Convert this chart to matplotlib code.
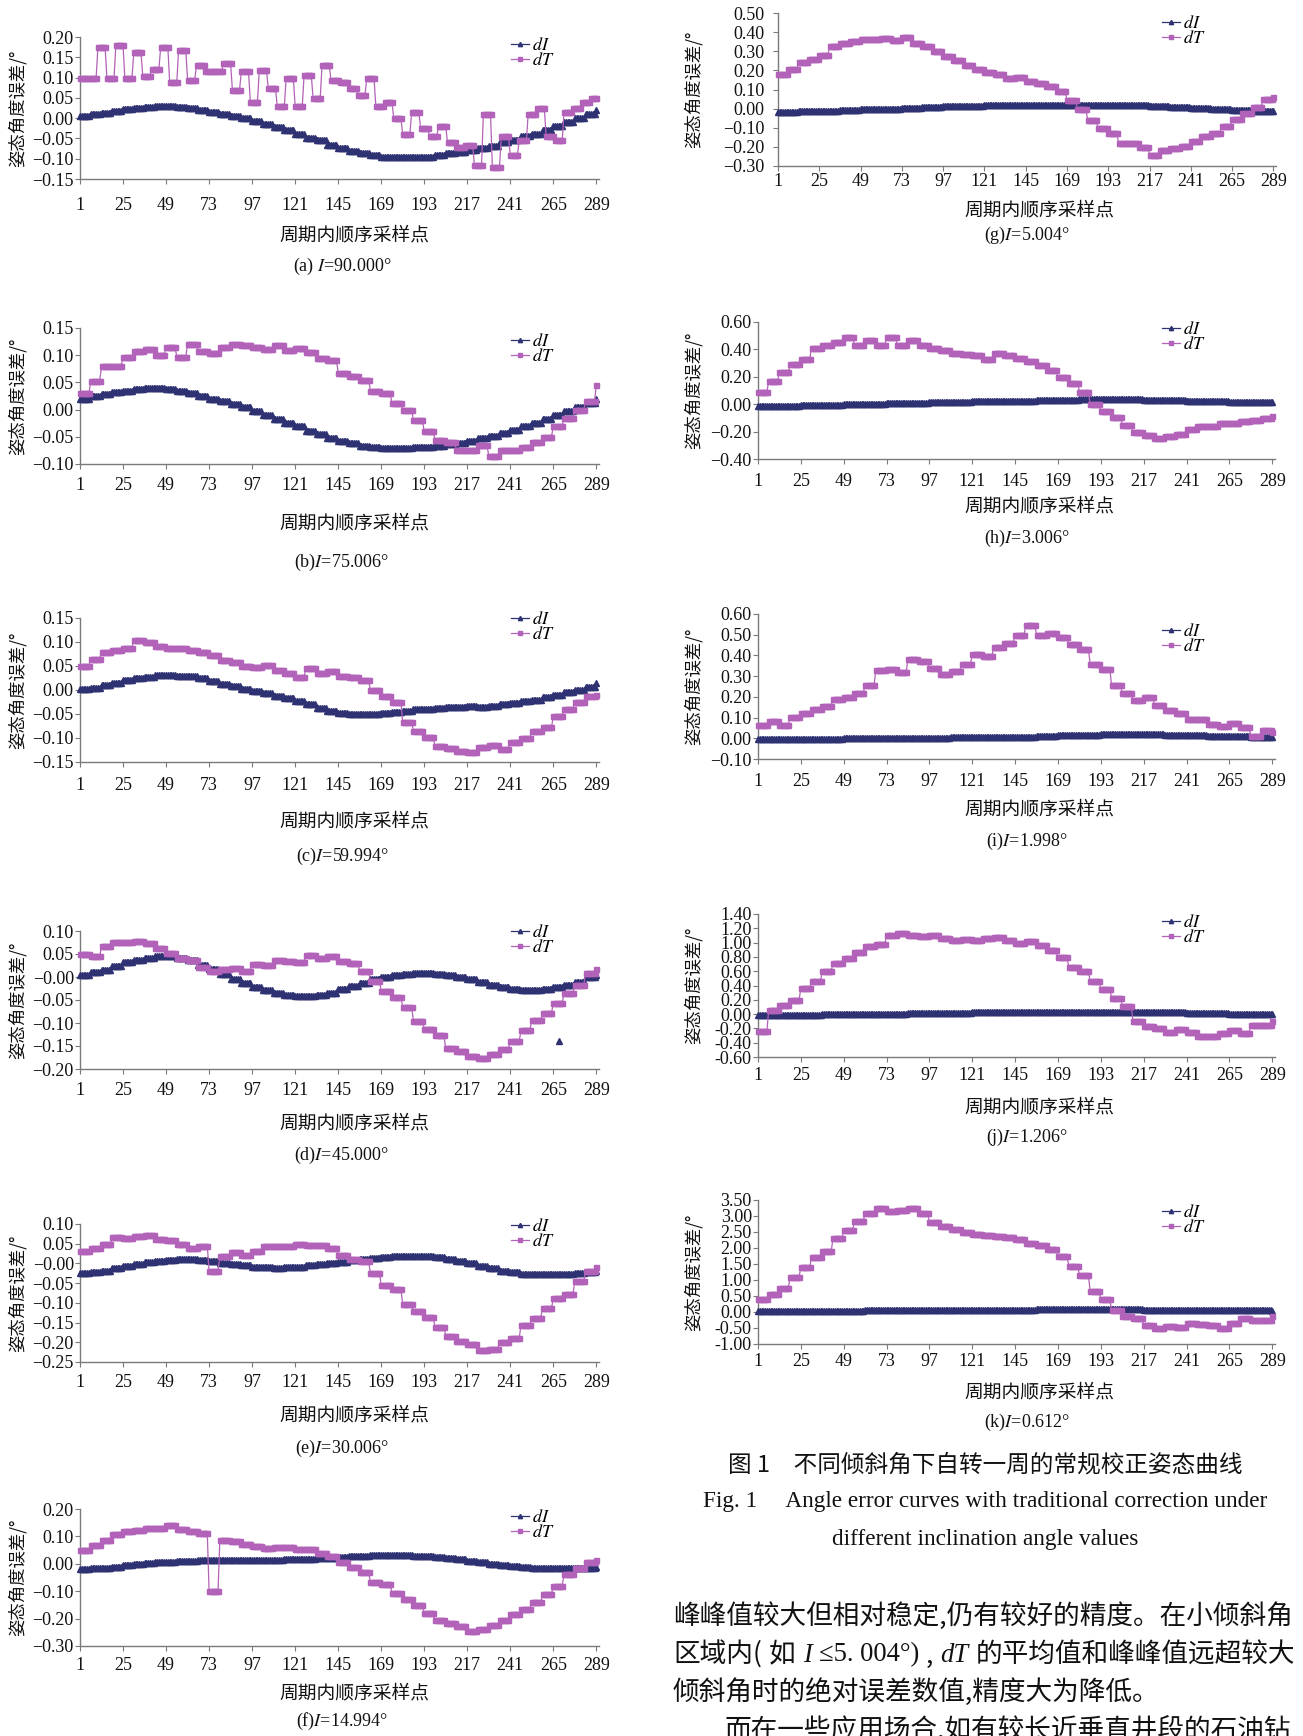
import math
import numpy as np
import matplotlib
matplotlib.use("Agg")
import matplotlib.pyplot as plt
from matplotlib.ticker import FixedLocator, FuncFormatter

W, H = 1303, 1736
SERIF = ["Liberation Serif", "DejaVu Serif"]
CJK = ["Noto Sans CJK SC", "DejaVu Sans"]
plt.rcParams["font.family"] = SERIF
plt.rcParams["mathtext.fontset"] = "stix"

N_SAMPLES = 289
x_ticks = [1, 25, 49, 73, 97, 121, 145, 169, 193, 217, 241, 265, 289]

# stepped levels read along each cycle (dT holds its value for a few samples)
dI_a = [0.005, 0.01, 0.012, 0.018, 0.022, 0.025, 0.027, 0.03, 0.029, 0.028,
        0.025, 0.02, 0.015, 0.01, 0.005, 0.0, -0.008, -0.015, -0.022, -0.03,
        -0.04, -0.048, -0.055, -0.065, -0.073, -0.08, -0.085, -0.09, -0.097, -0.097,
        -0.097, -0.097, -0.095, -0.09, -0.087, -0.083, -0.078, -0.073, -0.068, -0.06,
        -0.053, -0.045, -0.038, -0.028, -0.02, -0.01, 0.0, 0.01, 0.02]
dT_a = [0.10, 0.10, 0.175, 0.10, 0.18, 0.10, 0.162, 0.105, 0.12, 0.175,
        0.09, 0.168, 0.095, 0.13, 0.115, 0.115, 0.135, 0.07, 0.115, 0.04,
        0.118, 0.075, 0.03, 0.10, 0.03, 0.107, 0.05, 0.13, 0.095, 0.09,
        0.075, 0.058, 0.10, 0.03, 0.04, 0.0, -0.04, 0.015, -0.025, -0.045,
        -0.02, -0.06, -0.07, -0.065, -0.115, 0.01, -0.12, -0.045, -0.09, -0.055,
        0.01, 0.025, -0.045, -0.055, 0.015, 0.025, 0.04, 0.05]

dI_b = [0.02, 0.025, 0.028, 0.032, 0.035, 0.038, 0.04, 0.04, 0.038, 0.035,
        0.03, 0.025, 0.02, 0.015, 0.01, 0.005, -0.003, -0.01, -0.017, -0.025,
        -0.03, -0.04, -0.045, -0.052, -0.058, -0.062, -0.066, -0.068, -0.07, -0.07,
        -0.07, -0.069, -0.068, -0.066, -0.064, -0.062, -0.058, -0.053, -0.048, -0.043,
        -0.037, -0.03, -0.025, -0.018, -0.01, -0.002, 0.005, 0.013, 0.02]
dT_b = [0.03, 0.053, 0.08, 0.08, 0.097, 0.107, 0.112, 0.10, 0.115, 0.097,
        0.12, 0.108, 0.104, 0.115, 0.12, 0.118, 0.115, 0.112, 0.118, 0.11,
        0.113, 0.105, 0.095, 0.092, 0.068, 0.062, 0.055, 0.035, 0.03, 0.012,
        0.0, -0.02, -0.04, -0.055, -0.06, -0.075, -0.075, -0.065, -0.085, -0.075,
        -0.075, -0.068, -0.06, -0.05, -0.03, -0.015, 0.0, 0.015, 0.045]

dI_c = [0.003, 0.005, 0.01, 0.015, 0.02, 0.025, 0.028, 0.031, 0.032, 0.03,
        0.03, 0.025, 0.018, 0.013, 0.008, 0.003, -0.002, -0.007, -0.012, -0.017,
        -0.023, -0.03, -0.037, -0.043, -0.048, -0.05, -0.05, -0.05, -0.047, -0.045,
        -0.043, -0.04, -0.04, -0.038, -0.036, -0.035, -0.033, -0.035, -0.033, -0.03,
        -0.027, -0.023, -0.02, -0.015, -0.01, -0.005, 0.0, 0.007, 0.015]
dT_c = [0.05, 0.065, 0.08, 0.084, 0.088, 0.104, 0.10, 0.092, 0.088, 0.087,
        0.084, 0.08, 0.072, 0.063, 0.058, 0.05, 0.048, 0.052, 0.042, 0.036,
        0.028, 0.045, 0.036, 0.039, 0.03, 0.027, 0.02, 0.0, -0.012, -0.025,
        -0.067, -0.085, -0.097, -0.117, -0.12, -0.128, -0.13, -0.118, -0.115, -0.122,
        -0.108, -0.1, -0.085, -0.078, -0.055, -0.04, -0.025, -0.012, -0.01]

dI_d = [0.005, 0.01, 0.015, 0.025, 0.032, 0.038, 0.042, 0.045, 0.045, 0.042,
        0.036, 0.027, 0.017, 0.007, -0.004, -0.013, -0.022, -0.029, -0.035, -0.039,
        -0.041, -0.041, -0.039, -0.034, -0.027, -0.02, -0.012, -0.005, 0.0, 0.004,
        0.007, 0.008, 0.008, 0.007, 0.004, 0.0, -0.005, -0.011, -0.017, -0.022,
        -0.026, -0.028, -0.028, -0.025, -0.022, -0.017, -0.01, 0.0, 0.005]
dT_d = [0.05, 0.045, 0.068, 0.077, 0.076, 0.078, 0.075, 0.062, 0.052, 0.042,
        0.036, 0.022, 0.014, 0.017, 0.019, 0.014, 0.028, 0.026, 0.037, 0.035,
        0.033, 0.047, 0.042, 0.045, 0.035, 0.03, 0.012, -0.009, -0.03, -0.044,
        -0.065, -0.096, -0.112, -0.127, -0.155, -0.161, -0.172, -0.176, -0.168, -0.156,
        -0.14, -0.115, -0.094, -0.078, -0.057, -0.034, -0.018, 0.008, 0.017]
dI_d_stray = (268, -0.14)

dI_e = [-0.025, -0.022, -0.018, -0.012, -0.006, -0.001, 0.004, 0.007, 0.009, 0.01,
        0.01, 0.008, 0.005, 0.002, -0.002, -0.005, -0.008, -0.01, -0.011, -0.01,
        -0.008, -0.005, -0.002, 0.001, 0.004, 0.008, 0.011, 0.014, 0.017, 0.019,
        0.02, 0.02, 0.019, 0.016, 0.012, 0.007, 0.001, -0.006, -0.012, -0.018,
        -0.022, -0.026, -0.028, -0.028, -0.028, -0.027, -0.025, -0.021, -0.018]
dT_e = [0.032, 0.04, 0.05, 0.066, 0.065, 0.07, 0.072, 0.063, 0.06, 0.05,
        0.04, 0.045, -0.019, 0.018, 0.028, 0.022, 0.032, 0.045, 0.045, 0.044,
        0.05, 0.047, 0.047, 0.038, 0.022, 0.01, 0.005, -0.024, -0.055, -0.065,
        -0.103, -0.12, -0.137, -0.16, -0.185, -0.196, -0.205, -0.219, -0.216, -0.2,
        -0.19, -0.155, -0.138, -0.114, -0.088, -0.078, -0.045, -0.02, -0.01]

dI_f = [-0.02, -0.017, -0.014, -0.01, -0.006, -0.002, 0.002, 0.005, 0.008, 0.01,
        0.012, 0.013, 0.014, 0.014, 0.014, 0.014, 0.014, 0.014, 0.015, 0.016,
        0.017, 0.018, 0.02, 0.022, 0.025, 0.027, 0.029, 0.031, 0.033, 0.033,
        0.032, 0.03, 0.028, 0.025, 0.021, 0.016, 0.011, 0.006, 0.0, -0.005,
        -0.009, -0.012, -0.014, -0.015, -0.015, -0.015, -0.015, -0.014, -0.013]
dT_f = [0.05, 0.068, 0.088, 0.108, 0.118, 0.125, 0.132, 0.13, 0.142, 0.128,
        0.12, 0.113, -0.099, 0.086, 0.082, 0.074, 0.066, 0.058, 0.06, 0.062,
        0.055, 0.054, 0.039, 0.028, 0.008, -0.012, -0.03, -0.068, -0.075, -0.105,
        -0.13, -0.15, -0.18, -0.205, -0.215, -0.228, -0.244, -0.238, -0.222, -0.205,
        -0.182, -0.165, -0.14, -0.112, -0.08, -0.038, -0.015, 0.005, 0.015]

dI_g = [-0.017, -0.015, -0.012, -0.008, -0.004, 0.0, 0.004, 0.008, 0.012, 0.015,
        0.018, 0.019, 0.02, 0.02, 0.02, 0.02, 0.019, 0.017, 0.014, 0.009,
        0.004, 0.0, -0.006, -0.01, -0.013]
dT_g = [0.18, 0.205, 0.246, 0.262, 0.28, 0.328, 0.343, 0.352, 0.365, 0.362,
        0.368, 0.36, 0.372, 0.345, 0.328, 0.3, 0.275, 0.252, 0.23, 0.207,
        0.19, 0.179, 0.161, 0.167, 0.145, 0.135, 0.119, 0.09, 0.044, 0.0,
        -0.06, -0.1, -0.13, -0.18, -0.18, -0.2, -0.24, -0.214, -0.204, -0.193,
        -0.17, -0.145, -0.125, -0.09, -0.055, -0.025, 0.01, 0.05, 0.061]

dI_h = [-0.01, -0.01, -0.008, -0.005, 0.0, 0.003, 0.008, 0.012, 0.015, 0.018,
        0.02, 0.022, 0.025, 0.03, 0.033, 0.035, 0.038, 0.035, 0.032, 0.028,
        0.022, 0.02, 0.018, 0.017, 0.015]
dT_h = [0.09, 0.17, 0.233, 0.29, 0.333, 0.41, 0.435, 0.455, 0.49, 0.43,
        0.47, 0.433, 0.488, 0.43, 0.47, 0.433, 0.41, 0.395, 0.376, 0.365,
        0.362, 0.33, 0.375, 0.362, 0.338, 0.314, 0.286, 0.25, 0.2, 0.155,
        0.09, 0.0, -0.05, -0.09, -0.15, -0.2, -0.225, -0.25, -0.235, -0.214,
        -0.18, -0.16, -0.16, -0.135, -0.14, -0.124, -0.112, -0.1, -0.083]

dI_i = [-0.003, -0.003, -0.003, -0.002, -0.001, 0.0, 0.0, 0.001, 0.002, 0.004,
        0.006, 0.007, 0.008, 0.012, 0.015, 0.018, 0.02, 0.02, 0.02, 0.018,
        0.016, 0.012, 0.01, 0.008, 0.005]
dT_i = [0.065, 0.085, 0.065, 0.105, 0.12, 0.143, 0.158, 0.19, 0.2, 0.22,
        0.258, 0.33, 0.336, 0.32, 0.385, 0.372, 0.338, 0.31, 0.325, 0.36,
        0.405, 0.397, 0.44, 0.462, 0.5, 0.545, 0.5, 0.51, 0.49, 0.455,
        0.43, 0.36, 0.335, 0.255, 0.22, 0.185, 0.2, 0.16, 0.135, 0.12,
        0.094, 0.095, 0.07, 0.06, 0.075, 0.055, 0.01, 0.04, 0.028]

dI_j = [-0.01, -0.01, -0.01, -0.005, 0.005, 0.007, 0.008, 0.012, 0.015, 0.02,
        0.025, 0.027, 0.028, 0.028, 0.028, 0.028, 0.03, 0.03, 0.028, 0.025,
        0.02, 0.01, 0.008, 0.005, 0.0]
dT_j = [-0.23, 0.06, 0.13, 0.2, 0.36, 0.46, 0.6, 0.72, 0.78, 0.87,
        0.95, 0.975, 1.11, 1.13, 1.1, 1.09, 1.1, 1.06, 1.043, 1.05,
        1.043, 1.06, 1.075, 1.043, 1.0, 1.02, 0.96, 0.89, 0.8, 0.66,
        0.6, 0.46, 0.35, 0.23, 0.12, -0.1, -0.17, -0.2, -0.247, -0.215,
        -0.25, -0.3, -0.3, -0.265, -0.22, -0.26, -0.15, -0.15, -0.092]

dI_k = [0.03, 0.03, 0.03, 0.03, 0.03, 0.07, 0.07, 0.07, 0.07, 0.07,
        0.07, 0.07, 0.07, 0.08, 0.09, 0.1, 0.1, 0.08, 0.07, 0.07,
        0.07, 0.07, 0.06, 0.05, 0.04]
dT_k = [0.42, 0.55, 0.75, 1.1, 1.4, 1.72, 1.9, 2.3, 2.55, 2.85,
        3.1, 3.25, 3.15, 3.2, 3.25, 3.1, 2.8, 2.7, 2.6, 2.5,
        2.43, 2.4, 2.38, 2.35, 2.28, 2.15, 2.08, 1.98, 1.75, 1.45,
        1.15, 0.65, 0.4, 0.05, -0.11, -0.2, -0.4, -0.49, -0.44, -0.46,
        -0.35, -0.38, -0.42, -0.5, -0.35, -0.2, -0.25, -0.25, -0.11]

captions = ["(a) $I$=90.000°", "(b)$I$=75.006°", "(c)$I$=59.994°", "(d)$I$=45.000°",
            "(e)$I$=30.006°", "(f)$I$=14.994°", "(g)$I$=5.004°", "(h)$I$=3.006°",
            "(i)$I$=1.998°", "(j)$I$=1.206°", "(k)$I$=0.612°"]
y_limits = [(-0.15, 0.20), (-0.10, 0.15), (-0.15, 0.15), (-0.20, 0.10), (-0.25, 0.10),
            (-0.30, 0.20), (-0.30, 0.50), (-0.40, 0.60), (-0.10, 0.60), (-0.60, 1.40),
            (-1.00, 3.50)]
y_steps = [0.05, 0.05, 0.05, 0.05, 0.05, 0.10, 0.10, 0.20, 0.10, 0.20, 0.50]
dI_all = [dI_a, dI_b, dI_c, dI_d, dI_e, dI_f, dI_g, dI_h, dI_i, dI_j, dI_k]
dT_all = [dT_a, dT_b, dT_c, dT_d, dT_e, dT_f, dT_g, dT_h, dT_i, dT_j, dT_k]

# page layout in pixels: (left, top, right, bottom), tick-label pad, xlabel y, caption y, legend y
boxes = [(80, 37, 599, 179), (80, 328, 599, 464), (80, 618, 599, 762),
         (80, 931, 599, 1069), (80, 1224, 599, 1362), (80, 1509, 599, 1646),
         (778, 13, 1276, 166), (758, 322, 1275, 459), (758, 614, 1275, 759),
         (758, 914, 1275, 1057), (758, 1200, 1275, 1344)]
xpads = [13, 8, 10, 8, 7, 6, 2, 9, 9, 5, 4]
xlabel_y = [235, 523, 821, 1123, 1415, 1693, 210, 506, 809, 1107, 1392]
caption_y = [266, 562, 856, 1155, 1448, 1721, 235, 538, 841, 1137, 1422]
legend_y = [53, 349, 627, 940, 1234, 1525, 31, 337, 639, 930, 1220]

C_DI = "#2f3272"
C_DT = "#b262b8"
AX_GREY = "#7a7a7a"

fig = plt.figure(figsize=(W / 100, H / 100), dpi=100)
fig.patch.set_facecolor("white")
samples = np.arange(1, N_SAMPLES + 1)


def stepped(levels):
    rep = math.ceil(N_SAMPLES / len(levels))
    return np.repeat(np.asarray(levels, dtype=float), rep)[:N_SAMPLES]


def px(x, y):
    return x / W, 1 - y / H


for i in range(11):
    l, t, r, b = boxes[i]
    right_col = l > 650
    ax = fig.add_axes([l / W, 1 - b / H, (r - l) / W, (b - t) / H])
    ax.set_facecolor("none")
    for side in ("top", "right"):
        ax.spines[side].set_visible(False)
    for side in ("left", "bottom"):
        ax.spines[side].set_color(AX_GREY)
        ax.spines[side].set_linewidth(1.0)

    ln_i, = ax.plot(samples, stepped(dI_all[i]), color=C_DI, lw=0.9, marker="^",
                    ms=4.4, mec=C_DI, mfc=C_DI, clip_on=False, zorder=3)
    ln_t, = ax.plot(samples, stepped(dT_all[i]), color=C_DT, lw=0.9, marker="s",
                    ms=3.6, mec=C_DT, mfc=C_DT, clip_on=False, zorder=4)
    if i == 3:
        ax.plot([dI_d_stray[0]], [dI_d_stray[1]], ls="none", marker="^", ms=5,
                color=C_DI, zorder=3)

    lo, hi = y_limits[i]
    step = y_steps[i]
    ax.set_xlim(1, 290.5)
    ax.set_ylim(lo, hi)
    ax.xaxis.set_major_locator(FixedLocator(x_ticks))
    ax.yaxis.set_major_locator(FixedLocator(np.round(np.arange(lo, hi + step / 2, step), 4)))
    minus = "-" if i >= 9 else "\u2212"
    ax.yaxis.set_major_formatter(FuncFormatter(
        lambda v, p, m=minus: f"{v:.2f}".replace("-", m)))
    ax.tick_params(axis="both", direction="out", length=3.5, width=0.8,
                   color=AX_GREY, labelsize=13, labelcolor="#111111")
    ax.tick_params(axis="x", pad=xpads[i] * 0.72)
    ax.tick_params(axis="y", pad=6 if i == 6 else 1.0)

    lx = 1162 if right_col else 511
    ax.legend([ln_i, ln_t], [r"$dI$", r"$dT$"], loc="center left",
              bbox_to_anchor=px(lx, legend_y[i]), bbox_transform=fig.transFigure,
              frameon=False, fontsize=13, handlelength=1.0, handletextpad=0.15,
              labelspacing=-0.12, borderpad=0, borderaxespad=0, numpoints=1,
              markerscale=0.7)

    ylab_x = 693 if right_col else 17
    fig.text(*px(ylab_x, (t + b) / 2), "姿态角度误差/°", family=CJK, size=12.5,
             rotation=90, ha="center", va="center", color="#111111")
    cx = 1039 if right_col else 354
    fig.text(*px(cx, xlabel_y[i]), "周期内顺序采样点", family=CJK, size=13.5,
             ha="center", va="center", color="#111111")
    fig.text(*px(cx - 12, caption_y[i]), captions[i], size=13, ha="center",
             va="center", color="#111111")

renderer = fig.canvas.get_renderer()


def fitted_size(s, family, target_w, size0=16):
    probe = fig.text(0, 0, s, family=family, size=size0)
    w = probe.get_window_extent(renderer).width
    probe.remove()
    return size0 * target_w / w


def text_runs(x0, y, parts, size, right=None):
    # parts: (text, family, style); gaps between parts are spread to reach `right`
    widths = []
    for s, fam, sty in parts:
        probe = fig.text(0, 0, s, family=fam, style=sty, size=size)
        widths.append(probe.get_window_extent(renderer).width)
        probe.remove()
    gap = 0.0
    if right is not None and len(parts) > 1:
        gap = max(0.0, (right - x0 - sum(widths)) / (len(parts) - 1))
    x = x0
    for (s, fam, sty), w in zip(parts, widths):
        fig.text(*px(x, y), s, family=fam, style=sty, size=size, ha="left",
                 va="center", color="#111111")
        x += w + gap


# figure caption
fig.text(*px(985, 1465), "图 1\u3000不同倾斜角下自转一周的常规校正姿态曲线",
         family=CJK, size=17, ha="center", va="center", color="#111111")
cap_size = fitted_size("Fig. 1     Angle error curves with traditional correction under",
                       SERIF, 566)
fig.text(*px(985, 1502), "Fig. 1     Angle error curves with traditional correction under",
         family=SERIF, size=cap_size, ha="center", va="center", color="#111111")
fig.text(*px(985, 1539), "different inclination angle values", family=SERIF,
         size=cap_size, ha="center", va="center", color="#111111")

# running text below the caption
body_size = fitted_size("峰峰值较大但相对稳定,仍有较好的精度。在小倾斜角", CJK, 622)
fig.text(*px(673, 1616), "峰峰值较大但相对稳定,仍有较好的精度。在小倾斜角", family=CJK,
         size=body_size, ha="left", va="center", color="#111111")
text_runs(673, 1655, [("区域内(", CJK, "normal"), ("如", CJK, "normal"),
                      ("I", SERIF, "italic"), ("≤5. 004°)", SERIF, "normal"),
                      (",", CJK, "normal"), ("dT", SERIF, "italic"),
                      ("的平均值和峰峰值远超较大", CJK, "normal")],
          body_size, right=1295)
fig.text(*px(673, 1692), "倾斜角时的绝对误差数值,精度大为降低。", family=CJK,
         size=body_size, ha="left", va="center", color="#111111")
fig.text(*px(725, 1731), "而在一些应用场合,如有较长近垂直井段的石油钻", family=CJK,
         size=body_size, ha="left", va="center", color="#111111")

fig.savefig("out.png", dpi=100, facecolor="white")
